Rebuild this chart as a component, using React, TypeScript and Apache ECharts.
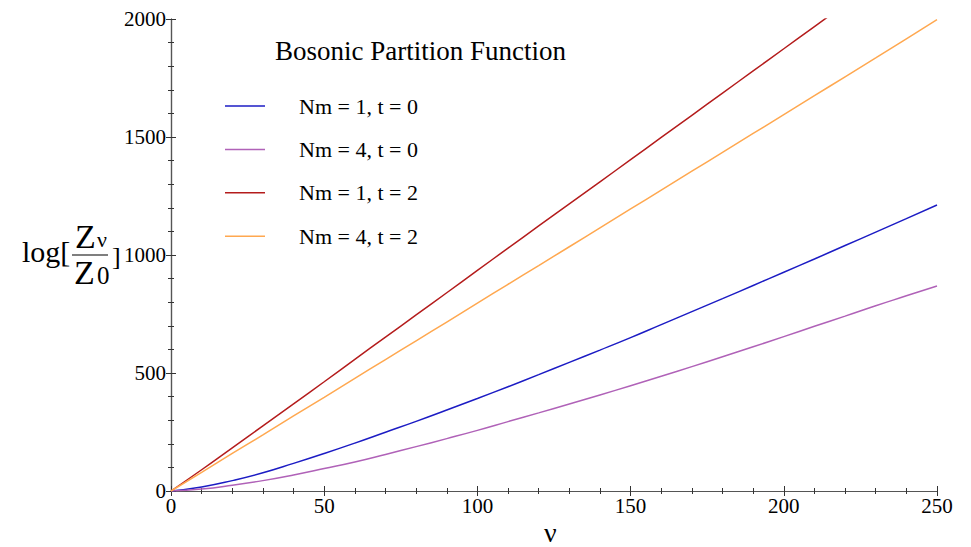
import React, { useEffect, useRef } from "react";
import * as echarts from "echarts";

// ν values (x axis)
const nuValues = [0, 10, 20, 30, 40, 50, 60, 70, 80, 90, 100, 110, 120, 130, 140, 150, 160, 170, 180, 190, 200, 210, 220, 230, 240, 250];
// Nm = 1, t = 0 (blue)
const blueValues = [0, 17, 44, 77, 117, 159, 203, 249, 295, 343, 392, 442, 493, 545, 597, 650, 705, 760, 815, 871, 927, 983, 1040, 1097, 1154, 1212];
// Nm = 4, t = 0 (purple)
const purpleValues = [0, 8, 24, 44, 68, 95, 123, 155, 188, 222, 257, 294, 331, 369, 407, 446, 486, 527, 569, 611, 654, 698, 741, 785, 827, 869];
// Nm = 1, t = 2 (red) — leaves the frame near ν ≈ 214
const redValues = [0, 90, 183, 276, 369, 463, 558, 652, 746, 840, 935, 1029, 1123, 1217, 1310, 1404, 1498, 1592, 1686, 1780, 1874, 1968, 2062];
// Nm = 4, t = 2 (orange)
const orangeValues = [0, 79, 159, 238, 318, 397, 477, 557, 636, 716, 796, 876, 955, 1035, 1115, 1195, 1275, 1355, 1435, 1515, 1595, 1675, 1755, 1835, 1916, 1997];

const seriesNames = ["Nm = 1, t = 0", "Nm = 4, t = 0", "Nm = 1, t = 2", "Nm = 4, t = 2"];
const seriesColors = ["#1c1cc4", "#b062b8", "#b41c1c", "#ffa850"];
const seriesValues = [blueValues, purpleValues, redValues, orangeValues];

const xTicks = { min: 0, max: 250, interval: 50 };
const yTicks = { min: 0, max: 2000, interval: 500 };
const titleText = "Bosonic Partition Function";

const SERIF = "'Liberation Serif', 'Times New Roman', serif";

export default function App() {
  const ref = useRef<HTMLDivElement | null>(null);

  useEffect(() => {
    if (!ref.current) return;
    const chart = echarts.init(ref.current, null, { renderer: "svg" });

    const axisLine = { show: true, lineStyle: { color: "#555", width: 1.2 } };
    const axisTick = { show: true, inside: true, length: 5, lineStyle: { color: "#333", width: 1 } };
    const minorTick = { show: true, splitNumber: 5, length: 3, lineStyle: { color: "#333", width: 1 } };
    const label = { color: "#000", fontSize: 21, fontFamily: SERIF, formatter: (v: number) => String(v) };

    const option: any = {
      animation: false,
      backgroundColor: "#fff",
      title: {
        text: titleText,
        left: 270,
        top: 32,
        textStyle: { fontFamily: SERIF, fontSize: 27, fontWeight: "normal", color: "#000" },
      },
      legend: {
        orient: "vertical",
        left: 220,
        top: 90,
        itemWidth: 40,
        itemHeight: 14,
        itemGap: 21.4,
        icon: "path://M0,0 L40,0 L40,1.5 L0,1.5 Z",
        data: seriesNames,
        textStyle: { fontFamily: SERIF, fontSize: 22, color: "#000", lineHeight: 22, padding: [0, 0, 0, 29] },
      },
      grid: { left: 171, right: 34, top: 19, bottom: 56, containLabel: false, outerBoundsMode: "none" },
      xAxis: [
        {
          type: "value",
          ...xTicks,
          position: "bottom",
          axisLine,
          axisTick,
          minorTick,
          splitLine: { show: false },
          axisLabel: { ...label, margin: 4 },
        },
        {
          type: "value",
          ...xTicks,
          position: "top",
          axisLine,
          axisTick,
          minorTick,
          splitLine: { show: false },
          axisLabel: { show: false },
        },
      ],
      yAxis: [
        {
          type: "value",
          ...yTicks,
          position: "left",
          axisLine,
          axisTick,
          minorTick,
          splitLine: { show: false },
          axisLabel: { ...label, margin: 5 },
        },
        {
          type: "value",
          ...yTicks,
          position: "right",
          axisLine,
          axisTick,
          minorTick,
          splitLine: { show: false },
          axisLabel: { show: false },
        },
      ],
      series: seriesNames.map((name, i) => ({
        name,
        type: "line",
        xAxisIndex: 0,
        yAxisIndex: 0,
        symbol: "none",
        smooth: 0.5,
        clip: true,
        color: seriesColors[i],
        lineStyle: { color: seriesColors[i], width: 1.5 },
        itemStyle: { color: seriesColors[i] },
        data: seriesValues[i].map((v, j) => [nuValues[j], v]),
      })),
      graphic: [
        { type: "text", left: 22, top: 236, style: { text: "log[", font: `30px ${SERIF}`, fill: "#000" } },
        { type: "text", left: 75, top: 219, style: { text: "Z", font: `34px ${SERIF}`, fill: "#000" } },
        { type: "text", left: 97, top: 228, style: { text: "ν", font: `22px ${SERIF}`, fill: "#000" } },
        { type: "line", shape: { x1: 72, y1: 255, x2: 108, y2: 255 }, style: { stroke: "#000", lineWidth: 1.2 } },
        { type: "text", left: 74, top: 255, style: { text: "Z", font: `34px ${SERIF}`, fill: "#000" } },
        { type: "text", left: 97, top: 263, style: { text: "0", font: `25px ${SERIF}`, fill: "#000" } },
        { type: "text", left: 112, top: 243, style: { text: "]", font: `26px ${SERIF}`, fill: "#000" } },
        { type: "text", left: 544, top: 518, style: { text: "ν", font: `28px ${SERIF}`, fill: "#000" } },
      ],
    };

    chart.setOption(option);
    return () => chart.dispose();
  }, []);

  return (
    <div
      ref={ref}
      style={{ position: "absolute", left: 0, top: 0, width: 971, height: 547, background: "#fff" }}
    />
  );
}
